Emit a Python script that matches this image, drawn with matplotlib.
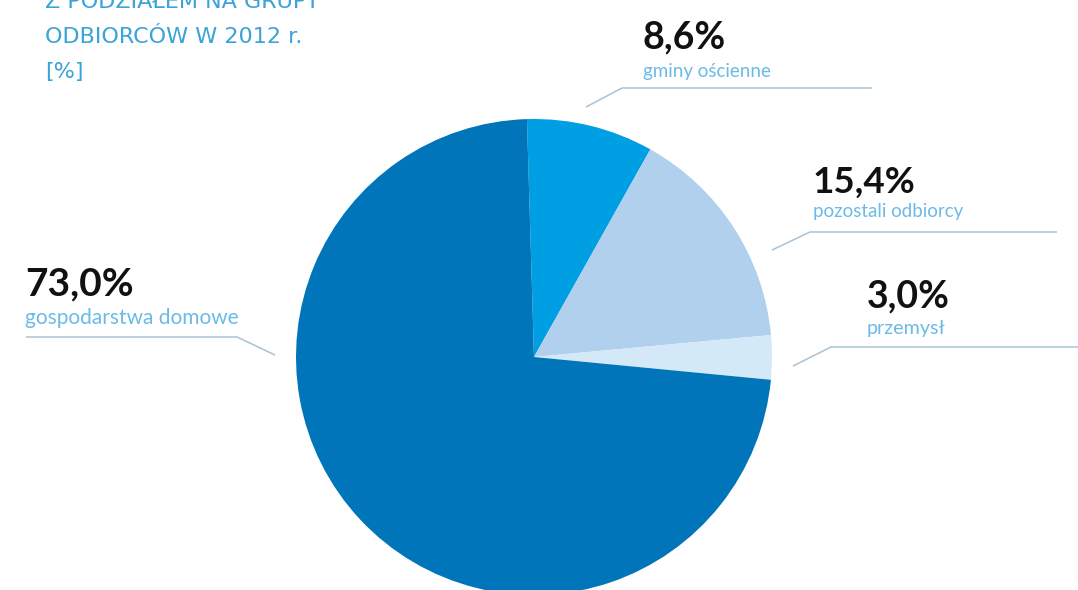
import matplotlib
matplotlib.use("Agg")
import matplotlib.pyplot as plt

# data (clockwise from top)
labels = ["gminy ościenne", "pozostali odbiorcy", "przemysł", "gospodarstwa domowe"]
values = [8.6, 15.4, 3.0, 73.0]
value_text = ["8,6%", "15,4%", "3,0%", "73,0%"]
colors = ["#009fe3", "#b0d0ee", "#d4e9f8", "#0075ba"]

title_lines = ["Z PODZIAŁEM NA GRUPY", "ODBIORCÓW W 2012 r.", "[%]"]

W, H = 1078, 590
fig = plt.figure(figsize=(W / 100, H / 100), dpi=100)
ax = fig.add_axes([0, 0, 1, 1])

# pixel-ish coordinates, y measured from the top of the picture
def py(y):
    return H - y

ax.pie(values, colors=colors, startangle=91.7, counterclock=False,
       center=(534, py(357)), radius=238,
       wedgeprops=dict(linewidth=0))
ax.set_xlim(0, W)
ax.set_ylim(0, H)
ax.set_aspect("equal")
ax.axis("off")

# label layout: (text x, number baseline, label baseline, number size, label size, leader)
layout = [
    (643, 48, 77, 27, 13.5, [(586, 107), (622, 88), (872, 88)]),
    (813, 193, 217, 26.5, 13.5, [(772, 250), (810, 232), (1057, 232)]),
    (867, 307, 334, 27, 14.2, [(793, 366), (831, 347), (1078, 347)]),
    (25, 295, 324, 28, 15, [(275, 355), (237, 337), (26, 337)]),
]

for (x, yb, yl, fs_num, fs_lab, pts), lab, vt in zip(layout, labels, value_text):
    ax.text(x, py(yb), vt, fontsize=fs_num, fontweight="bold", family="Lato",
            color="#111111", ha="left", va="baseline")
    ax.text(x, py(yl), lab, fontsize=fs_lab, fontweight="normal", family="Lato",
            color="#6bbbe6", ha="left", va="baseline")
    ax.plot([p[0] for p in pts], [py(p[1]) for p in pts],
            color="#a8c3d5", lw=1.1, solid_capstyle="butt")

for i, line in enumerate(title_lines):
    ax.text(45, py(8 + 35 * i), line, fontsize=16, family="DejaVu Sans",
            color="#3aa3d8", ha="left", va="baseline")

fig.savefig("out.png", dpi=100)
